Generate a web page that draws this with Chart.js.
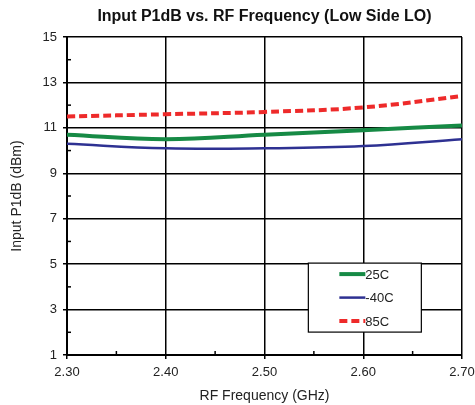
<!DOCTYPE html>
<html>
<head>
<meta charset="utf-8">
<script src="https://cdn.jsdelivr.net/npm/chart.js@4.4.0/dist/chart.umd.min.js"></script>
<style>
  html, body { margin: 0; padding: 0; background: #fff; }
  #wrap { width: 475px; height: 405px; }
</style>
</head>
<body>
<div id="wrap"><canvas id="p1dbChart"></canvas></div>
<script>
// RF frequency (GHz) and input P1dB (dBm) per temperature
const freqGHz = [2.30, 2.40, 2.50, 2.60, 2.70];
const p1db25C = [10.7, 10.5, 10.7, 10.9, 11.1];
const p1dbM40C = [10.3, 10.1, 10.1, 10.2, 10.5];
const p1db85C = [11.5, 11.6, 11.7, 11.9, 12.4];
const seriesLabels = ['25C', '-40C', '85C'];
const xMinorTicks = [2.35, 2.45, 2.55, 2.65];
const yMinorTicks = [2, 4, 6, 8, 10, 12, 14];

const FONT = 'Liberation Sans, Arial, sans-serif';
const TITLE = 'Input P1dB vs. RF Frequency (Low Side LO)';
const X_TITLE = 'RF Frequency (GHz)';
const Y_TITLE = 'Input P1dB (dBm)';

const toPoints = ys => freqGHz.map((x, i) => ({ x: x, y: ys[i] }));

// Titles, small inward minor ticks and the legend box inside the plot
const extrasPlugin = {
    id: 'extras',
    afterDraw(chart) {
        const { ctx, chartArea, scales } = chart;
        const midX = (chartArea.left + chartArea.right) / 2;
        const midY = (chartArea.top + chartArea.bottom) / 2;
        ctx.save();

        // titles
        ctx.fillStyle = '#111';
        ctx.textAlign = 'center';
        ctx.textBaseline = 'middle';
        ctx.font = 'bold 16px ' + FONT;
        ctx.fillText(TITLE, midX, chartArea.top - 20);
        ctx.fillStyle = '#222';
        ctx.font = '14px ' + FONT;
        ctx.fillText(X_TITLE, midX, chartArea.bottom + 41);
        ctx.save();
        ctx.translate(17, midY);
        ctx.rotate(-Math.PI / 2);
        ctx.fillText(Y_TITLE, 0, 0);
        ctx.restore();

        ctx.strokeStyle = '#000';
        ctx.lineWidth = 1.5;
        xMinorTicks.forEach(v => {
            const px = scales.x.getPixelForValue(v);
            ctx.beginPath();
            ctx.moveTo(px, chartArea.bottom);
            ctx.lineTo(px, chartArea.bottom - 4);
            ctx.stroke();
        });
        yMinorTicks.forEach(v => {
            const py = scales.y.getPixelForValue(v);
            ctx.beginPath();
            ctx.moveTo(chartArea.left, py);
            ctx.lineTo(chartArea.left + 4, py);
            ctx.stroke();
        });

        // legend box
        const bx = chartArea.left + (chartArea.right - chartArea.left) * 0.611;
        const by = chartArea.top + (chartArea.bottom - chartArea.top) * 0.711;
        const bw = 113, bh = 69;
        ctx.fillStyle = '#fff';
        ctx.fillRect(bx, by, bw, bh);
        ctx.lineWidth = 1.2;
        ctx.strokeRect(bx, by, bw, bh);
        chart.data.datasets.forEach((ds, i) => {
            const ly = by + 11 + i * 23.5;
            ctx.beginPath();
            ctx.strokeStyle = ds.borderColor;
            ctx.lineWidth = ds.borderWidth;
            ctx.setLineDash(ds.borderDash || []);
            ctx.moveTo(bx + 31, ly);
            ctx.lineTo(bx + 57, ly);
            ctx.stroke();
            ctx.setLineDash([]);
            ctx.fillStyle = '#222';
            ctx.font = '13px ' + FONT;
            ctx.textBaseline = 'middle';
            ctx.textAlign = 'left';
            ctx.fillText(ds.label, bx + 57, ly + 1);
        });
        ctx.restore();
    }
};

new Chart(document.getElementById('p1dbChart'), {
    type: 'line',
    data: {
        datasets: [{
            label: seriesLabels[0],
            data: toPoints(p1db25C),
            borderColor: '#168a45',
            borderWidth: 4,
            tension: 0.4
        }, {
            label: seriesLabels[1],
            data: toPoints(p1dbM40C),
            borderColor: '#2e3192',
            borderWidth: 2.5,
            tension: 0.4
        }, {
            label: seriesLabels[2],
            data: toPoints(p1db85C),
            borderColor: '#ee2a2a',
            borderWidth: 4,
            borderDash: [8, 4],
            tension: 0.4
        }]
    },
    options: {
        responsive: true,
        maintainAspectRatio: false,
        animation: false,
        elements: { point: { radius: 0 } },
        layout: { padding: { left: 0, right: 13, top: 37, bottom: 0 } },
        plugins: {
            legend: { display: false },
            tooltip: { enabled: false },
            title: { display: false }
        },
        scales: {
            x: {
                type: 'linear',
                min: 2.3,
                max: 2.7,
                afterFit: s => { s.height = 50; s.paddingLeft = 0; s.paddingRight = 0; },
                ticks: {
                    stepSize: 0.1,
                    color: '#222',
                    font: { family: FONT, size: 13 },
                    padding: 6,
                    callback: v => v.toFixed(2)
                },
                grid: { color: '#000', lineWidth: 1.5, tickLength: 4 },
                border: { color: '#000', width: 2 }
            },
            y: {
                min: 1,
                max: 15,
                afterFit: s => { s.width = 67; s.paddingTop = 0; s.paddingBottom = 0; },
                ticks: {
                    stepSize: 2,
                    color: '#222',
                    font: { family: FONT, size: 13 },
                    padding: 6
                },
                grid: { color: '#000', lineWidth: 1.5, tickLength: 4 },
                border: { color: '#000', width: 2 }
            }
        }
    },
    plugins: [extrasPlugin]
});
</script>
</body>
</html>
